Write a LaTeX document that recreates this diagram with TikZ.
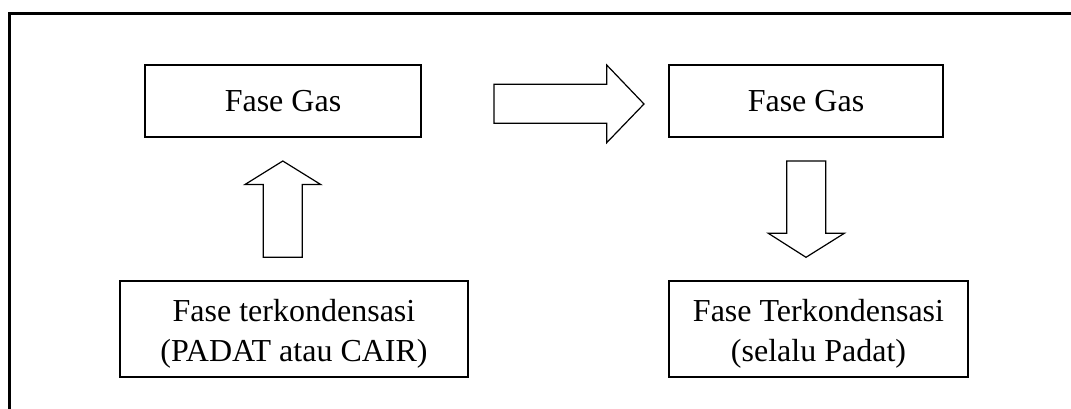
\documentclass[tikz,border=0pt]{standalone}
\usepackage{fontspec}
\setmainfont{Liberation Serif}
\begin{document}
\begin{tikzpicture}[x=1pt,y=-1pt,
  box/.style={draw, line width=1.4pt, inner sep=0pt, minimum height=72pt},
  bbox/.style={draw, line width=1.4pt, inner sep=0pt, minimum height=96pt},
  txt/.style={inner sep=0pt, align=center, font=\fontsize{32}{40}\selectfont},
  blockarrow/.style={draw, line width=1.2pt, line join=miter, fill=white}]
\useasboundingbox (0,0) rectangle (1071,409);
% outer frame
\draw[line width=3pt] (9.5,420) -- (9.5,14) -- (1080,14);
% boxes
\node[box, minimum width=276pt] (g1) at (283,101) {};
\node[txt] (tg1) at (g1.center) {Fase Gas};
\node[box, minimum width=274pt] (g2) at (806,101) {};
\node[txt] (tg2) at (g2.center) {Fase Gas};
\node[bbox, minimum width=348pt] (c1) at (294,329) {};
\node[txt] (tc1) at ([yshift=-4.5pt]c1.center) {Fase terkondensasi\\(PADAT atau CAIR)};
\node[bbox, minimum width=299pt] (c2) at (818.5,329) {};
\node[txt] (tc2) at ([yshift=-4.5pt]c2.center) {Fase Terkondensasi\\(selalu Padat)};
% block arrows
\draw[blockarrow] (494,84.3) -- (606.7,84.3) -- (606.7,65) -- (644,104) -- (606.7,142.7) -- (606.7,123.3) -- (494,123.3) -- cycle;
\draw[blockarrow] (263.3,257.3) -- (263.3,184.5) -- (245,184.5) -- (282.8,161) -- (320.7,184.5) -- (302.3,184.5) -- (302.3,257.3) -- cycle;
\draw[blockarrow] (786.7,161) -- (786.7,233.3) -- (768.3,233.3) -- (806,257.3) -- (844.3,233.3) -- (825.7,233.3) -- (825.7,161) -- cycle;
\end{tikzpicture}
\end{document}
